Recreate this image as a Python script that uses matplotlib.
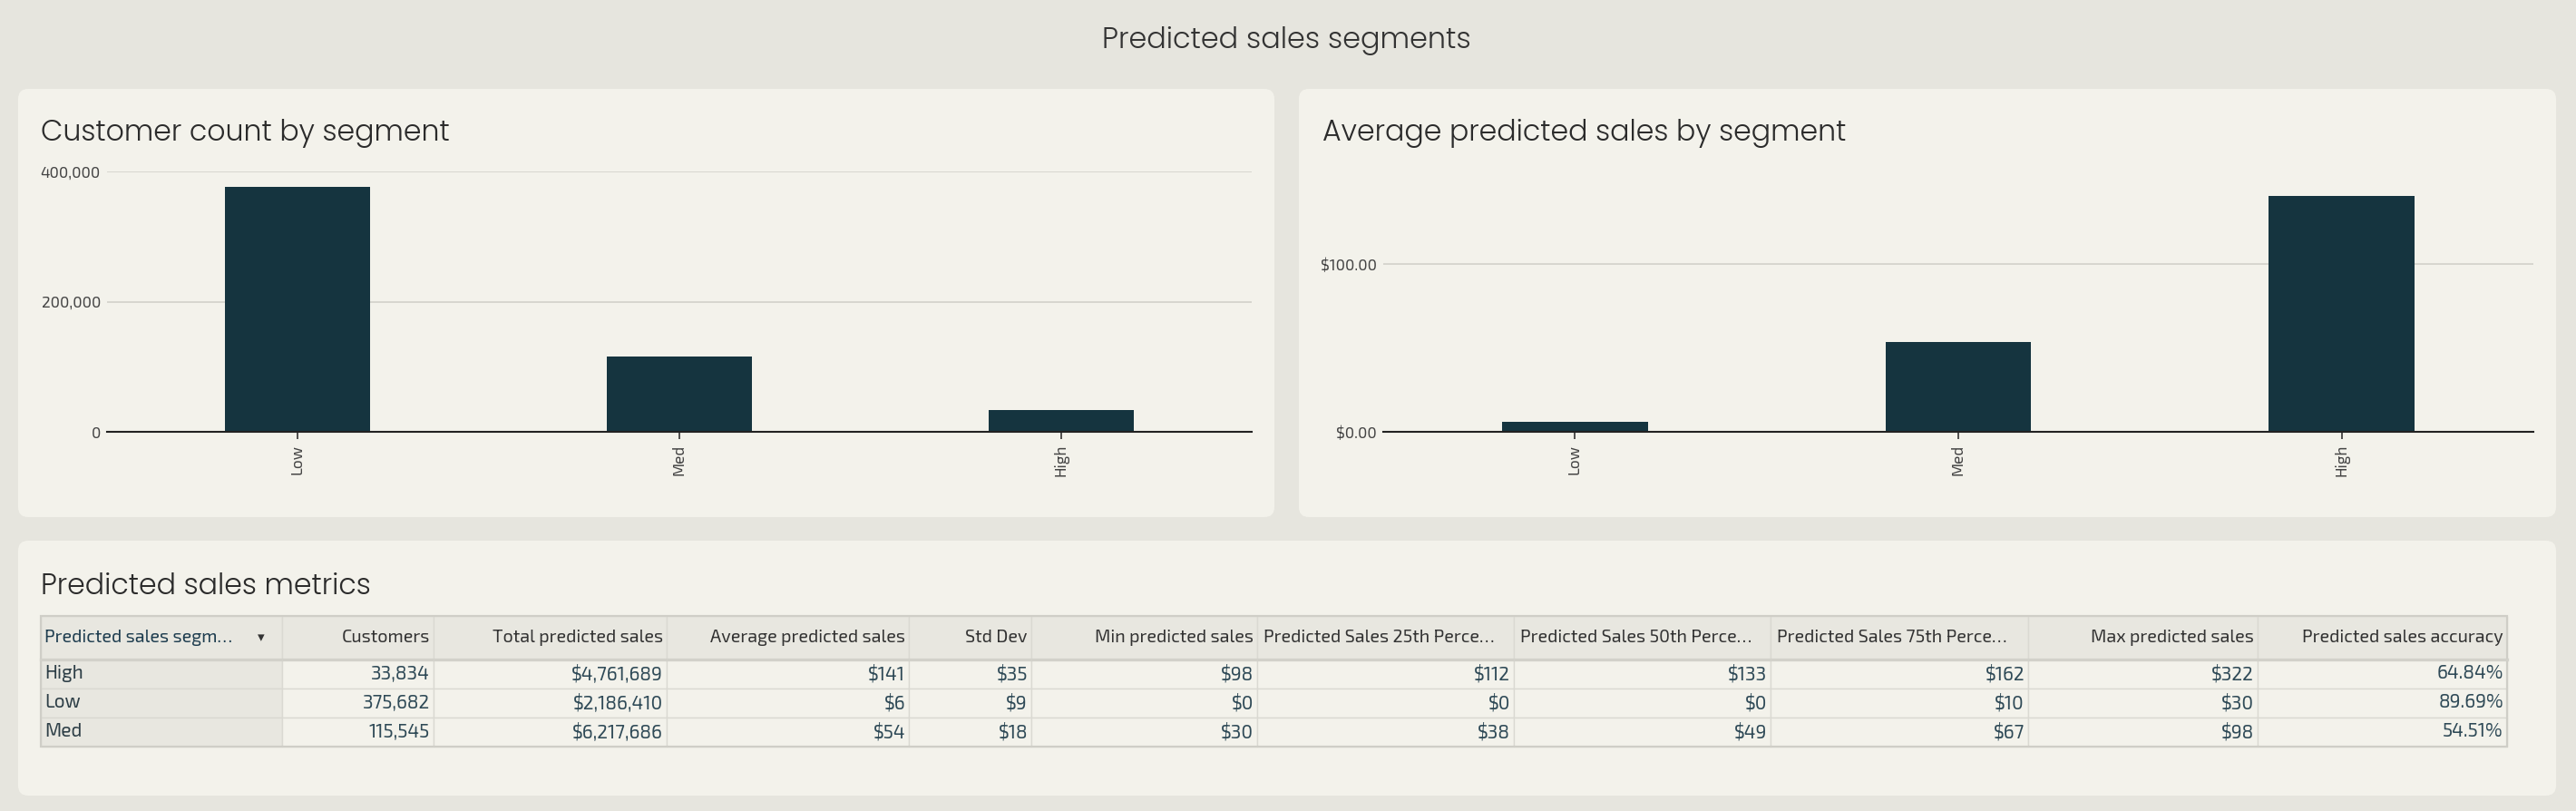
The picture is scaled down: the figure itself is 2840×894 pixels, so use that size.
import matplotlib
matplotlib.use("Agg")
import matplotlib.pyplot as plt
from matplotlib import font_manager as fm
from matplotlib.patches import FancyBboxPatch, Rectangle
from matplotlib.transforms import IdentityTransform
from matplotlib.ticker import FuncFormatter

# chart data
segments = ["Low", "Med", "High"]
customer_count = [375682, 115545, 33834]
avg_predicted = [5.82, 53.81, 140.74]

# table data
tbl_segments = ["High", "Low", "Med"]
customers = [33834, 375682, 115545]
total_sales = [4761689, 2186410, 6217686]
avg_sales = [141, 6, 54]
std_dev = [35, 9, 18]
min_sales = [98, 0, 30]
p25_sales = [112, 0, 38]
p50_sales = [133, 0, 49]
p75_sales = [162, 10, 67]
max_sales = [322, 30, 98]
accuracy = [64.84, 89.69, 54.51]
headers = ["Predicted sales segm\u2026", "Customers", "Total predicted sales",
           "Average predicted sales", "Std Dev", "Min predicted sales",
           "Predicted Sales 25th Perce\u2026", "Predicted Sales 50th Perce\u2026",
           "Predicted Sales 75th Perce\u2026", "Max predicted sales",
           "Predicted sales accuracy"]

W, H = 2840, 894
BG = "#E6E5DE"
PANEL = "#F3F2EB"
BAR = "#15343F"


def pick(cands):
    for name, weight, stretch in cands:
        for f in fm.fontManager.ttflist:
            if f.name == name and (weight is None or f.weight == weight) \
                    and (stretch is None or f.stretch == stretch):
                return name, weight or "normal", stretch or "normal"
    return "DejaVu Sans", "normal", "normal"


tname, tweight, tstretch = pick([
    ("Poppins", 300, None), ("Poppins Light", None, None),
    ("Lato", 300, None), ("Lato Light", None, None),
    ("Open Sans", 300, None), ("Roboto", 300, None), ("DejaVu Sans", 200, None)])
cname, cweight, cstretch = pick([
    ("Exo 2", None, None), ("Saira Semi Condensed", None, None),
    ("Roboto Condensed", None, None), ("Saira Condensed", None, None),
    ("Barlow Semi Condensed", None, None), ("Fira Sans Condensed", None, None),
    ("IBM Plex Sans Condensed", None, None), ("Liberation Sans Narrow", None, None),
    ("Roboto", None, "condensed"), ("Open Sans", None, "condensed"),
    ("Noto Sans", None, "condensed"), ("DejaVu Sans", None, "condensed")])


def tfont(size):
    return fm.FontProperties(family=[tname, "DejaVu Sans"], weight=tweight,
                             stretch=tstretch, size=size)


def cfont(size, weight=None):
    return fm.FontProperties(family=[cname, "DejaVu Sans"], weight=weight or cweight,
                             stretch=cstretch, size=size)


def fx(px):
    return px / W


def fy(py):
    return 1 - py / H


fig = plt.figure(figsize=(W / 100, H / 100), dpi=100)
fig.patch.set_facecolor(BG)

# rounded panels
for x0, y0, x1, y1 in [(20, 98, 1405, 570), (1432, 98, 2818, 570), (20, 596, 2818, 877)]:
    p = FancyBboxPatch((x0, H - y1), x1 - x0, y1 - y0,
                       boxstyle="round,pad=0,rounding_size=11",
                       transform=IdentityTransform(), facecolor=PANEL,
                       edgecolor="none", zorder=-5)
    fig.add_artist(p)

fig.text(fx(1418), fy(53), "Predicted sales segments", ha="center", va="baseline",
         color="#333333", fontproperties=tfont(23))
fig.text(fx(45), fy(155), "Customer count by segment", ha="left", va="baseline",
         color="#2B2B2B", fontproperties=tfont(22.8))
fig.text(fx(1458), fy(155), "Average predicted sales by segment", ha="left", va="baseline",
         color="#2B2B2B", fontproperties=tfont(22.8))
fig.text(fx(45), fy(655), "Predicted sales metrics", ha="left", va="baseline",
         color="#2B2B2B", fontproperties=tfont(22.8))


def bar_panel(rect, values, ymax, ticks, fmt):
    ax = fig.add_axes(rect)
    ax.set_facecolor("none")
    ax.bar(segments, values, width=0.38, color=BAR, zorder=3)
    ax.set_xlim(-0.5, 2.5)
    ax.set_ylim(0, ymax)
    ax.set_yticks(ticks)
    ax.yaxis.set_major_formatter(FuncFormatter(fmt))
    ax.grid(axis="y", color="#D2D1CA", linewidth=1.2)
    ax.set_axisbelow(True)
    for s in ["top", "right", "left"]:
        ax.spines[s].set_visible(False)
    ax.spines["bottom"].set_color("#222222")
    ax.spines["bottom"].set_linewidth(1.5)
    ax.spines["bottom"].set_zorder(4)
    ax.tick_params(axis="y", length=0, pad=5, labelcolor="#444444")
    ax.tick_params(axis="x", length=6, width=1.2, color="#333333", pad=4,
                   labelcolor="#444444", labelrotation=90)
    for lab in ax.get_xticklabels() + ax.get_yticklabels():
        lab.set_fontproperties(cfont(12.4, 300))
    return ax


ax_h = (476 - 189) / H
bar_panel([fx(118), fy(476), fx(1380 - 118), ax_h], customer_count, 400000,
          [0, 200000, 400000], lambda v, p: f"{v:,.0f}")
bar_panel([fx(1525), fy(476), fx(2793 - 1525), ax_h], avg_predicted, 155.4,
          [0, 100], lambda v, p: f"${v:,.2f}")

# metrics table
rows = []
for i in range(len(tbl_segments)):
    rows.append([tbl_segments[i], f"{customers[i]:,}", f"${total_sales[i]:,}",
                 f"${avg_sales[i]}", f"${std_dev[i]}", f"${min_sales[i]}",
                 f"${p25_sales[i]}", f"${p50_sales[i]}", f"${p75_sales[i]}",
                 f"${max_sales[i]}", f"{accuracy[i]:.2f}%"])

edges = [45, 311, 478, 735, 1002, 1137, 1386, 1669, 1952, 2236, 2489, 2764]
col_w = [edges[i + 1] - edges[i] for i in range(len(edges) - 1)]
tx0, ty0, tx1, ty1 = 45, 679, 2764, 823
ax_t = fig.add_axes([fx(tx0), fy(ty1), fx(tx1 - tx0), (ty1 - ty0) / H])
ax_t.axis("off")
tab = ax_t.table(cellText=rows, colLabels=headers,
                 colWidths=[w / sum(col_w) for w in col_w],
                 cellLoc="right", colLoc="right", bbox=[0, 0, 1, 1])
tab.auto_set_font_size(False)
HEAD_BG = "#E8E7E0"
for (r, c), cell in tab.get_celld().items():
    cell.set_height(48 if r == 0 else 32)
    cell.set_edgecolor("#DAD9D2")
    cell.set_linewidth(1.0)
    cell.PAD = 4 / col_w[c]
    txt = cell.get_text()
    if r == 0:
        txt.set_fontproperties(cfont(14.2, 300))
        cell.set_facecolor(HEAD_BG)
        txt.set_color("#333333")
        # truncated headers sit on the left like the dashboard shows them
        if headers[c].endswith("\u2026"):
            cell._loc = "left"
            txt.set_ha("left")
            cell.PAD = 7 / col_w[c]
    else:
        txt.set_fontproperties(cfont(15))
        cell.set_facecolor(HEAD_BG if c == 0 else PANEL)
        txt.set_color("#2F4A57")
    if c == 0:
        cell._loc = "left"
        cell.PAD = 4 / col_w[c]
        txt.set_ha("left")
        txt.set_color("#1E3D4F" if r == 0 else "#2E3F47")

# header sort arrow, outer border and header separator
ax_t.text((288 - tx0) / (tx1 - tx0), (ty1 - 703) / (ty1 - ty0), "\u25BE",
          transform=ax_t.transAxes, ha="center", va="center", color="#333333",
          fontsize=11, family=["DejaVu Sans"], zorder=10)
ax_t.add_patch(Rectangle((0, 0), 1, 1, transform=ax_t.transAxes, fill=False,
                         edgecolor="#CFCEC7", linewidth=1.6, zorder=5, clip_on=False))
ax_t.plot([0, 1], [1 - 48 / 144] * 2, transform=ax_t.transAxes, color="#D2D1CA",
          linewidth=2.4, zorder=5, clip_on=False)

fig.savefig("out.png", dpi=100, facecolor=BG)
